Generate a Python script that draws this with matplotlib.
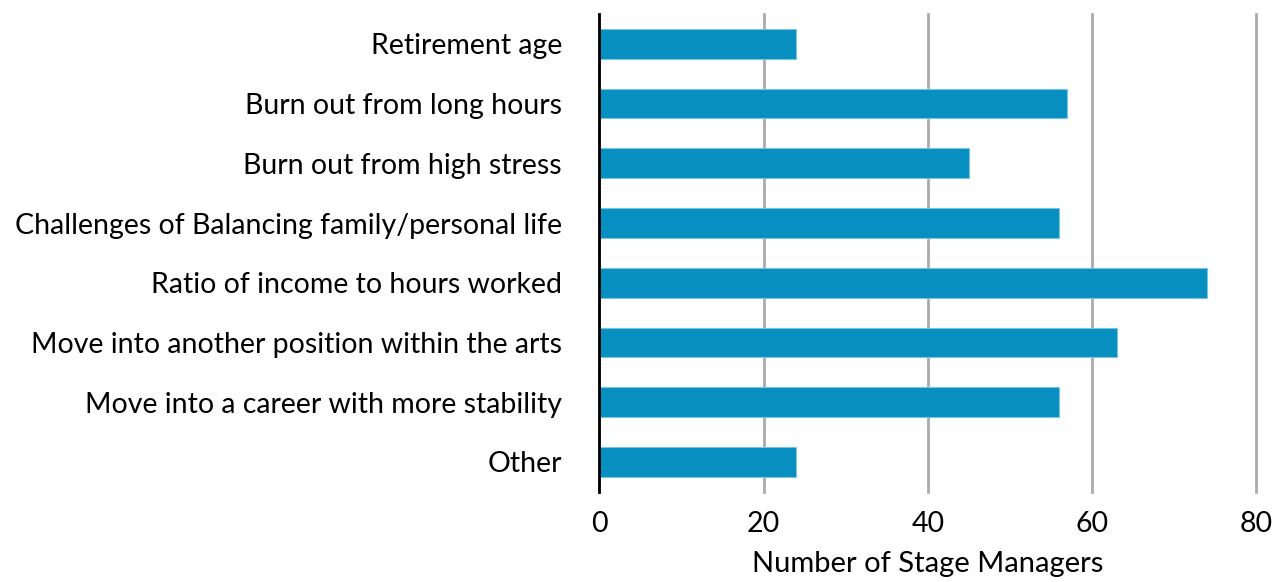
import matplotlib.pyplot as plt

# reasons stage managers might leave the profession
reasons = ['Retirement age', 'Burn out from long hours', 'Burn out from high stress',
           'Challenges of Balancing family/personal life', 'Ratio of income to hours worked',
           'Move into another position within the arts', 'Move into a career with more stability',
           'Other']
counts = [24, 57, 45, 56, 74, 63, 56, 24]
xticks = [0, 20, 40, 60, 80]

plt.rcParams['font.family'] = ['Lato', 'DejaVu Sans']

fig = plt.figure(figsize=(12.78, 5.82), dpi=100)
ax = fig.add_axes([0.469, 0.155, 0.514, 0.821])

pos = list(range(len(reasons)))
ax.barh(pos, counts, height=0.5, color='#068fc0', edgecolor='#7cc3e0', linewidth=0.8, zorder=2)

ax.set_ylim(len(reasons) - 0.5, -0.5)
ax.set_xlim(0, 80)
ax.set_xticks(xticks)
ax.set_yticks(pos)
ax.set_yticklabels(reasons)
ax.tick_params(axis='both', length=0, labelsize=20.5, colors='black')
ax.tick_params(axis='y', pad=27)
ax.tick_params(axis='x', pad=14)

ax.grid(axis='x', color='#ababab', linewidth=2, zorder=0)
for g in ax.xaxis.get_gridlines():
    g.set_clip_on(False)
for s in ['top', 'right', 'bottom']:
    ax.spines[s].set_visible(False)
ax.spines['left'].set_linewidth(2)
ax.spines['left'].set_color('black')
ax.spines['left'].set_zorder(3)

ax.set_xlabel('Number of Stage Managers', fontsize=21, labelpad=10)

fig.savefig('out.png', dpi=100)
